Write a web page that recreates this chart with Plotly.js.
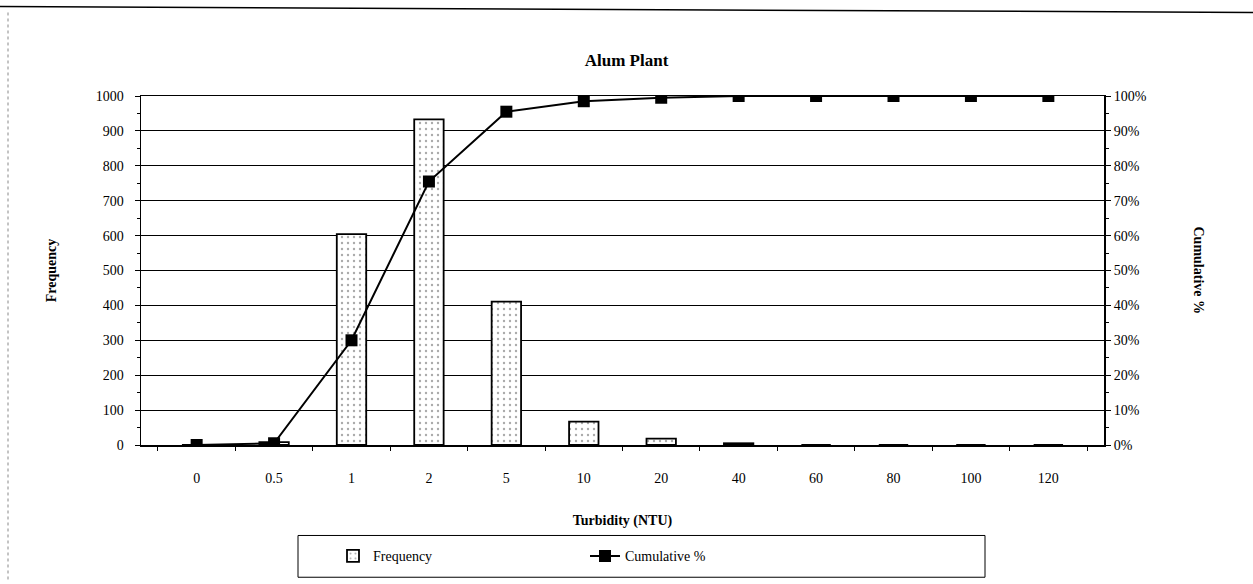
<!DOCTYPE html>
<html>
<head>
<meta charset="utf-8">
<script src="https://cdn.plot.ly/plotly-3.0.1.min.js"></script>
<style>html,body{margin:0;padding:0;background:#fff}#chart{width:1253px;height:584px}</style>
</head>
<body>
<div id="chart"></div>
<script>
const categories = ["0","0.5","1","2","5","10","20","40","60","80","100","120"];
const frequency = [0, 8, 604, 933, 411, 67, 18, 5, 0, 0, 0, 0];
const cumulative = [0, 0.5, 30, 75.5, 95.5, 98.5, 99.5, 100, 100, 100, 100, 100];
const leftTicks = [0,100,200,300,400,500,600,700,800,900,1000];
const rightTicks = [0,10,20,30,40,50,60,70,80,90,100];
const rightTickText = rightTicks.map(v => v + "%");

const FAM = "'Liberation Serif', 'Times New Roman', serif";
const f = (size) => ({family: FAM, size: size, color: "#000"});

const traces = [
  {
    type: "bar", name: "Frequency", x: categories, y: frequency,
    width: 0.38,
    marker: {color: "#fff", line: {color: "#000", width: 1.8},
      pattern: {shape: ".", fgcolor: "#aaa", bgcolor: "#fff", size: 6, solidity: 0.12}},
    yaxis: "y"
  },
  {
    type: "scatter", mode: "lines+markers", name: "Cumulative %", x: categories, y: cumulative,
    line: {color: "#000", width: 2},
    marker: {symbol: "square", size: 12, color: "#000"},
    yaxis: "y2"
  }
];

const layout = {
  width: 1253, height: 584,
  margin: {l: 141, r: 149, t: 96, b: 137},
  paper_bgcolor: "#fff", plot_bgcolor: "#fff",
  font: f(14),
  showlegend: true,
  title: {text: "<b>Alum Plant</b>", x: 0.5, xanchor: "center", y: 1 - 60/584, yanchor: "middle",
    font: f(17)},
  xaxis: {type: "category", showgrid: false, zeroline: false, showline: true, linecolor: "#000", linewidth: 1.5,
    ticks: "outside", tickson: "boundaries", ticklen: 4, tickcolor: "#000",
    ticklabelstandoff: 20,
    tickfont: f(14),
    title: {text: "<b>Turbidity (NTU)</b>", standoff: 30, font: f(14)},
    mirror: true},
  yaxis: {range: [0, 1000], tickvals: leftTicks, showgrid: true, gridcolor: "#000", gridwidth: 1,
    zeroline: false, showline: true, linecolor: "#000", linewidth: 1.5, ticks: "outside", ticklen: 5,
    ticklabelstandoff: 8,
    tickcolor: "#000", tickfont: f(14),
    title: {text: "<b>Frequency</b>", standoff: 36, font: f(14)},
    minor: {ticks: "outside", ticklen: 3, nticks: 5, tickcolor: "#000", showgrid: false}},
  yaxis2: {range: [0, 100], overlaying: "y", side: "right", tickvals: rightTicks, ticktext: rightTickText,
    showgrid: false, zeroline: false, showline: true, linecolor: "#000", linewidth: 2,
    ticks: "outside", ticklen: 5, tickcolor: "#000", tickfont: f(14),
    minor: {ticks: "outside", ticklen: 3, nticks: 5, tickcolor: "#000", showgrid: false}},
  legend: {orientation: "h", x: (333-141)/963, xanchor: "left", y: (447-559)/351, yanchor: "middle",
    bgcolor: "rgba(0,0,0,0)", borderwidth: 0, entrywidth: 207, entrywidthmode: "pixels",
    font: f(14)},
  annotations: [
    {text: "<b>Cumulative %</b>", xref: "paper", yref: "paper", x: (1198-141)/963, y: 0.5,
      xanchor: "center", yanchor: "middle", textangle: 90, showarrow: false,
      font: f(14)}
  ],
  shapes: [
    {type: "rect", xref: "paper", yref: "paper", x0: (298-141)/963, x1: (985-141)/963,
      y0: (447-538)/351, y1: (447-580)/351, line: {color: "#000", width: 1}, fillcolor: "rgba(0,0,0,0)"},
    {type: "line", xref: "paper", yref: "paper", x0: -141/963, x1: (1253-141)/963,
      y0: (447-6)/351, y1: (447-12)/351, line: {color: "#000", width: 1.5}},
    {type: "line", xref: "paper", yref: "paper", x0: (8-141)/963, x1: (8-141)/963,
      y0: (447-12)/351, y1: (447-584)/351, line: {color: "#888", width: 1, dash: "dot"}}
  ]
};

Plotly.newPlot("chart", traces, layout, {displayModeBar: false, staticPlot: true});
</script>
</body>
</html>
